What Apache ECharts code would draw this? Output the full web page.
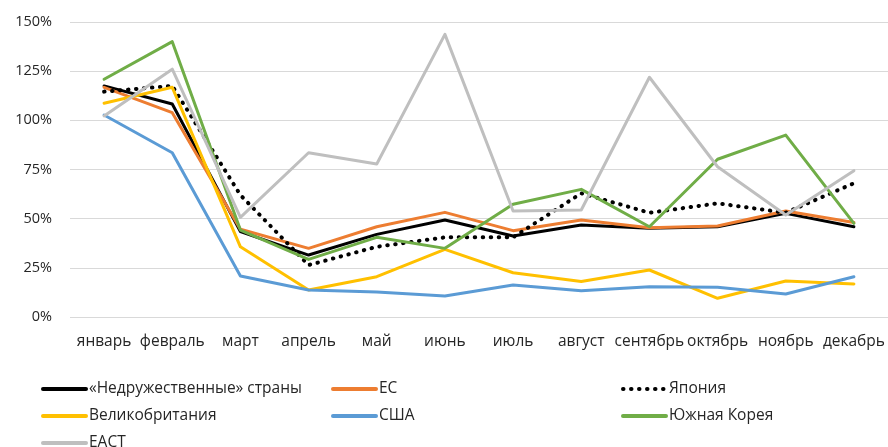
<!DOCTYPE html>
<html>
<head>
<meta charset="utf-8">
<script src="https://cdn.jsdelivr.net/npm/echarts@6/dist/echarts.min.js"></script>
<style>html,body{margin:0;padding:0;background:#fff}#c{width:888px;height:447px}</style>
</head>
<body>
<div id="c"></div>
<script>
var categories = ['январь','февраль','март','апрель','май','июнь','июль','август','сентябрь','октябрь','ноябрь','декабрь'];
var yTicks = [0, 25, 50, 75, 100, 125, 150];
var unfriendly = [117.5, 108.3, 43.4, 31.5, 42.0, 49.3, 41.2, 46.8, 45.1, 45.9, 52.7, 45.9];
var eu         = [116.8, 103.9, 44.6, 34.9, 45.9, 53.2, 43.9, 49.3, 45.4, 46.3, 53.9, 48.0];
var japan      = [114.6, 117.5, 62.0, 26.4, 35.7, 40.5, 40.5, 62.9, 53.0, 57.8, 53.0, 68.0];
var uk         = [108.7, 116.8, 35.7, 13.7, 20.5, 34.4, 22.5, 18.0, 23.9, 9.5, 18.3, 16.8];
var usa        = [102.7, 83.5, 20.8, 13.7, 12.7, 10.7, 16.3, 13.4, 15.4, 15.1, 11.7, 20.5];
var korea      = [120.9, 140.0, 44.2, 29.3, 40.5, 34.9, 57.3, 64.9, 45.9, 80.2, 92.5, 47.6];
var efta       = [102.2, 126.0, 50.7, 83.5, 77.8, 143.7, 53.9, 54.4, 121.9, 76.4, 51.9, 74.4];

var names = ['«Недружественные» страны','ЕС','Япония','Великобритания','США','Южная Корея','ЕАСТ'];
var datas = [unfriendly, eu, japan, uk, usa, korea, efta];
var colors = ['#000000','#ED7D31','#000000','#FFC000','#5B9BD5','#70AD47','#BFBFBF'];

var series = names.map(function(n, i){
  var ls = {color: colors[i], width: 3, cap: 'round', join: 'round'};
  if (i === 2) { ls.type = [0.5, 7.5]; ls.width = 4; ls.cap = 'round'; }
  return {
    name: n, type: 'line', data: datas[i], symbol: 'none', smooth: false,
    lineStyle: ls, itemStyle: {color: colors[i]}, z: 2 + i
  };
});

var FONT = 'Open Sans';
var legendCols = [41, 331, 621, 41, 331, 621, 41];
var legendRows = [0, 0, 0, 1, 1, 1, 2];
var legends = names.map(function(n, i){
  return {
    left: legendCols[i], top: 381 + legendRows[i] * 27, padding: 0, orient: 'horizontal', data: [n],
    itemWidth: 43, itemHeight: 12, itemGap: 0,
    lineStyle: {width: 4},
    itemStyle: {opacity: 0},
    textStyle: {fontFamily: FONT, fontSize: 15.5, color: '#262626', padding: [0,0,0,-2]},
    selectedMode: false
  };
});

var chart = echarts.init(document.getElementById('c'), null, {renderer: 'canvas'});
chart.setOption({
  animation: false,
  grid: {left: 70, top: 22, width: 821, height: 295, containLabel: false},
  legend: legends,
  xAxis: {
    type: 'category', data: categories, boundaryGap: true,
    axisLine: {show: false}, axisTick: {show: false},
    axisLabel: {fontFamily: FONT, fontSize: 15.5, color: '#262626', margin: 17, interval: 0}
  },
  yAxis: {
    type: 'value', min: yTicks[0], max: yTicks[yTicks.length-1], interval: 25,
    axisLine: {show: false}, axisTick: {show: false},
    splitLine: {lineStyle: {color: '#D9D9D9', width: 1}},
    axisLabel: {fontFamily: FONT, fontSize: 14.5, color: '#262626', margin: 18, formatter: function(v){return v + '%';}}
  },
  series: series
});
</script>
</body>
</html>
